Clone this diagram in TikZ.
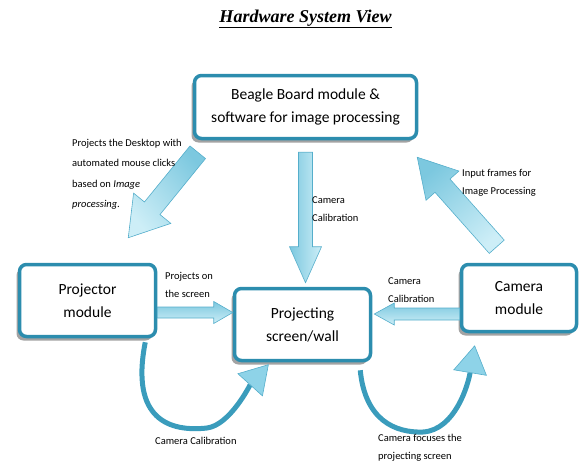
\documentclass[tikz,border=0pt]{standalone}
\usepackage{fontspec}
\setmainfont{Carlito}
\newfontfamily\titlefont{Liberation Serif}
\usetikzlibrary{calc,shadows,arrows.meta}
\definecolor{boxedge}{HTML}{2C8DAE}
\definecolor{arrowlight}{HTML}{CDEEF7}
\definecolor{arrowdark}{HTML}{7CC8DF}
\definecolor{arrowmid}{HTML}{8ED3E8}
\definecolor{arrowedge}{HTML}{55AECB}
\definecolor{curvecol}{HTML}{3A9CBC}
\tikzset{
  box/.style={draw=boxedge, line width=3.5pt, rounded corners=7pt, fill=white,
    align=center, inner sep=0pt, font=\fontsize{15.5}{23}\selectfont,
    drop shadow={shadow xshift=-3pt, shadow yshift=-4pt, fill=black!45, opacity=0.8}},
  lbl/.style={anchor=north west, inner sep=0pt, align=left, font=\fontsize{10.5}{18}\selectfont},
  barrow/.style={draw=arrowedge, line width=0.6pt, left color=arrowdark, right color=arrowlight},
  carrow/.style={draw=curvecol, line width=5pt,
    -{Triangle[length=28pt,width=34pt,line width=0.6pt,fill=arrowmid,color=arrowedge]}},
}
% #1 from, #2 to, #3 shaft half width, #4 head half width, #5 head length, #6 prefix, #7 shading angle
\newcommand{\blockarrow}[7]{%
  \coordinate (#6c) at ($(#2)!#5!(#1)$);
  \shadedraw[barrow, shading angle=#7]
    ($(#1)!#3!90:(#2)$) -- ($(#6c)!#3!90:(#2)$) -- ($(#6c)!#4!90:(#2)$) -- (#2)
    -- ($(#6c)!#4!-90:(#2)$) -- ($(#6c)!#3!-90:(#2)$) -- ($(#1)!#3!-90:(#2)$) -- cycle;
}
\begin{document}
\begin{tikzpicture}[x=1pt,y=-1pt]
\useasboundingbox (0,0) rectangle (581,466);
\node[font=\titlefont\fontsize{18}{20}\selectfont\bfseries\itshape] (title) at (305.5,19) {\underline{Hardware System View}};

\node[box, minimum width=222pt, minimum height=63pt] (beagle) at (305.5,107) {Beagle Board module \&\\software for image processing};
\node[box, minimum width=136pt, minimum height=72pt] (proj) at (87.5,300.5) {Projector\\module};
\node[box, minimum width=136pt, minimum height=72pt] (screen) at (302.5,324.5) {Projecting\\screen/wall};
\node[box, minimum width=115pt, minimum height=67pt] (cam) at (519,298) {Camera\\module};

% block arrows
\coordinate (a1s) at ($(beagle.south west)+(5,12)$);
\coordinate (a1e) at ($(proj.north east)+(-29,-25)$);
\blockarrow{a1s}{a1e}{10pt}{24pt}{38pt}{a1}{-50}

\coordinate (a2s) at ($(beagle.south)+(0,12)$);
\coordinate (a2e) at ($(beagle.south |- screen.north)+(0,-4)$);
\blockarrow{a2s}{a2e}{7pt}{16pt}{36pt}{a2}{90}

\coordinate (a3s) at ($(cam.north west)+(37,-16)$);
\coordinate (a3e) at ($(beagle.south east)+(-1,17)$);
\blockarrow{a3s}{a3e}{10pt}{22pt}{38pt}{a3}{40}

\coordinate (a4s) at ($(proj.east)+(0,12)$);
\coordinate (a4e) at (screen.west |- a4s);
\blockarrow{a4s}{a4e}{5.5pt}{11pt}{19pt}{a4}{0}

\coordinate (a5s) at ($(cam.west)+(0,16)$);
\coordinate (a5e) at ($(screen.east |- a5s)+(2,0)$);
\blockarrow{a5s}{a5e}{6pt}{11pt}{20pt}{a5}{0}

% curved arrows
\coordinate (c1s) at ($(proj.south east)+(-12,4)$);
\coordinate (c1e) at ($(screen.south west)+(36,2)$);
\draw[carrow] (c1s) .. controls (130,420) and (170,432) .. (207,428)
  .. controls (230,425) and (250,385) .. (c1e);

\coordinate (c2s) at ($(screen.south east)+(-12,8)$);
\coordinate (c2e) at ($(cam.south west)+(15,12)$);
\draw[carrow] (c2s) .. controls (365,420) and (395,433) .. (423,432)
  .. controls (455,430) and (468,385) .. (c2e);

% labels
\node[lbl, font=\fontsize{10.5}{20.3}\selectfont] (l1) at (72,139) {Projects the Desktop with\\automated mouse clicks\\based on \textit{Image}\\\textit{processing.}};
\node[lbl] (l2) at (165,272) {Projects on\\the screen};
\node[lbl] (l3) at (312,196) {Camera\\Calibration};
\node[lbl] (l4) at (462,169) {Input frames for\\Image Processing};
\node[lbl] (l5) at (388,277) {Camera\\Calibration};
\node[lbl] (l6) at (155,437) {Camera Calibration};
\node[lbl] (l7) at (378,434) {Camera focuses the\\projecting screen};
\end{tikzpicture}
\end{document}
